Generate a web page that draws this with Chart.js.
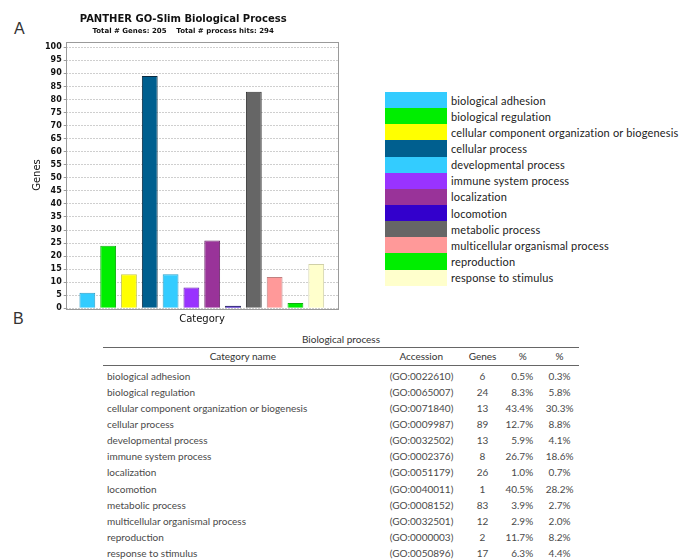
<!DOCTYPE html>
<html>
<head>
<meta charset="utf-8">
<script src="https://cdn.jsdelivr.net/npm/chart.js@4/dist/chart.umd.min.js"></script>
<style>
  html, body { margin: 0; padding: 0; background: #fff; }
  body { width: 681px; height: 559px; position: relative; overflow: hidden; }
  #chartBox { position: absolute; left: 0; top: 0; width: 366px; height: 332px; }
  .panel { position: absolute; font-family: "Liberation Sans", sans-serif; font-size: 16px; color: #333; line-height: 1; }
  #legend { position: absolute; left: 385px; top: 92px; margin: 0; padding: 0; list-style: none;
            font-family: Lato, sans-serif; font-size: 11px; color: #222; letter-spacing: 0.16px; }
  #legend li { height: 16.15px; display: flex; align-items: center; white-space: nowrap; }
  #legend .sw { width: 62px; height: 16.15px; margin-right: 4px; flex: none; }
  #tbl { position: absolute; left: 103px; top: 332px; width: 476px; border-collapse: collapse;
         font-family: Lato, sans-serif; font-size: 10px; color: #4a4a4a; }
  #tbl td, #tbl th { padding: 0; height: 16.15px; line-height: 16.15px; font-weight: normal; white-space: nowrap; }
  #tbl caption { color: #333; font-size: 10px; line-height: 15px; height: 15px; }
  #tbl thead th { color: #333; height: 17px; line-height: 17px; border-top: 1px solid #666; border-bottom: 1px solid #666; }
  #tbl tbody tr:first-child td { padding-top: 1.5px; }
  .c1 { text-align: left; padding-left: 4px !important; }
  .c2 { text-align: left; padding-left: 7px !important; }
  .c3 { text-align: center; }
  .c4 { text-align: right; padding-right: 7px !important; }
  .c5 { text-align: center; }
  #tbl thead th { text-align: center; padding: 0 !important; }
</style>
</head>
<body>
<div class="panel" style="left:14px; top:21px;">A</div>
<div class="panel" style="left:13px; top:311px;">B</div>
<div id="chartBox"><canvas id="bars" width="366" height="332"></canvas></div>
<ul id="legend"></ul>
<table id="tbl">
  <caption>Biological process</caption>
  <colgroup>
    <col style="width:281px"><col style="width:77px"><col style="width:46px"><col style="width:33px"><col style="width:39px">
  </colgroup>
  <thead><tr><th>Category name</th><th>Accession</th><th>Genes</th><th>%</th><th>%</th></tr></thead>
  <tbody id="rows"></tbody>
</table>
<script>
// GO-Slim biological process categories and their gene counts
const categories = [
  'biological adhesion',
  'biological regulation',
  'cellular component organization or biogenesis',
  'cellular process',
  'developmental process',
  'immune system process',
  'localization',
  'locomotion',
  'metabolic process',
  'multicellular organismal process',
  'reproduction',
  'response to stimulus'
];
const genes = [6, 24, 13, 89, 13, 8, 26, 1, 83, 12, 2, 17];
const accessions = [
  '(GO:0022610)', '(GO:0065007)', '(GO:0071840)', '(GO:0009987)',
  '(GO:0032502)', '(GO:0002376)', '(GO:0051179)', '(GO:0040011)',
  '(GO:0008152)', '(GO:0032501)', '(GO:0000003)', '(GO:0050896)'
];
const pctOfGenes = ['0.5%', '8.3%', '43.4%', '12.7%', '5.9%', '26.7%', '1.0%', '40.5%', '3.9%', '2.9%', '11.7%', '6.3%'];
const pctOfHits = ['0.3%', '5.8%', '30.3%', '8.8%', '4.1%', '18.6%', '0.7%', '28.2%', '2.7%', '2.0%', '8.2%', '4.4%'];
const barColors = [
  '#33ccff', '#00ee00', '#ffff00', '#005f8f', '#33ccff', '#9933ff',
  '#993399', '#3300cc', '#666666', '#ff9999', '#00ee00', '#ffffcc'
];
const barEdges = [
  '#2a9fc8', '#10b010', '#c8c84a', '#0a2a40', '#2a9fc8', '#6a22b0',
  '#6a2a6a', '#0a0a40', '#333333', '#c08080', '#10b010', '#d0d0a8'
];
const chartTitle = 'PANTHER GO-Slim Biological Process';
const chartSubtitle = 'Total # Genes: 205    Total # process hits: 294';

// light frame around the plotting area
const plotFrame = {
  id: 'plotFrame',
  afterDatasetsDraw(chart) {
    const a = chart.chartArea, ctx = chart.ctx;
    ctx.save();
    ctx.strokeStyle = '#9a9a9a';
    ctx.lineWidth = 1;
    ctx.strokeRect(Math.round(a.left) + 0.5, Math.round(a.top) + 0.5,
                   Math.round(a.right - a.left) - 1, Math.round(a.bottom - a.top));
    ctx.restore();
  }
};

const boldTick = { family: 'DejaVu Sans', weight: 'bold', size: 8 };

new Chart(document.getElementById('bars'), {
  type: 'bar',
  data: {
    labels: categories,
    datasets: [{
      data: genes.map((g, i) => ({ x: i, y: g })),
      backgroundColor: barColors,
      borderColor: barEdges,
      borderWidth: 1,
      barPercentage: 0.76,
      categoryPercentage: 1
    }]
  },
  options: {
    responsive: false,
    animation: false,
    devicePixelRatio: 1,
    layout: { padding: { left: 28, right: 27.7, top: 0, bottom: 2.7 } },
    plugins: {
      legend: { display: false },
      tooltip: { enabled: false },
      title: {
        display: true, text: chartTitle, color: '#111',
        font: { family: 'DejaVu Sans', weight: 'bold', size: 10 },
        padding: { top: 13, bottom: 2 }
      },
      subtitle: {
        display: true, text: chartSubtitle, color: '#111',
        font: { family: 'DejaVu Sans', weight: 'bold', size: 7 },
        padding: { top: 0, bottom: 6.3 }
      }
    },
    scales: {
      x: {
        type: 'linear', min: -1.04, max: 12.06, offset: false,
        grid: { display: false, drawTicks: false }, border: { display: false },
        ticks: { display: false },
        title: { display: true, text: 'Category', color: '#111',
                 font: { family: 'DejaVu Sans', size: 10 }, padding: { top: 5, bottom: 4 } }
      },
      y: {
        min: 0, max: 102.15,
        afterFit(scale) { scale.width = 37.7; },
        ticks: { stepSize: 5, includeBounds: false, color: '#111', font: boldTick, padding: 2 },
        grid: { color: '#cfcfcf', lineWidth: 1, drawTicks: true, tickLength: 2, tickColor: '#999' },
        border: { display: false, dash: [2, 1] },
        title: { display: true, text: 'Genes', color: '#111',
                 font: { family: 'DejaVu Sans', size: 10 }, padding: { top: 3, bottom: 4 } }
      }
    }
  },
  plugins: [plotFrame]
});

// colour key
const legend = document.getElementById('legend');
categories.forEach((name, i) => {
  const li = document.createElement('li');
  const sw = document.createElement('span');
  sw.className = 'sw';
  sw.style.background = barColors[i];
  li.appendChild(sw);
  li.appendChild(document.createTextNode(name));
  legend.appendChild(li);
});

// summary table
const body = document.getElementById('rows');
categories.forEach((name, i) => {
  const tr = document.createElement('tr');
  [[name, 'c1'], [accessions[i], 'c2'], [String(genes[i]), 'c3'], [pctOfGenes[i], 'c4'], [pctOfHits[i], 'c5']]
    .forEach(([txt, cls]) => {
      const td = document.createElement('td');
      td.className = cls;
      td.textContent = txt;
      tr.appendChild(td);
    });
  body.appendChild(tr);
});
</script>
</body>
</html>
